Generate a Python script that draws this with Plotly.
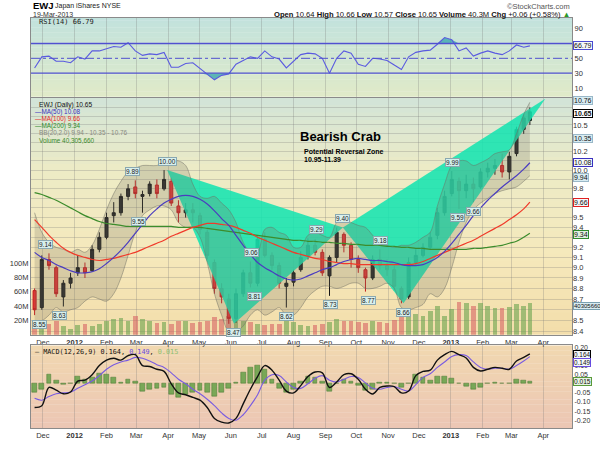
import math
import numpy as np
import plotly.graph_objects as go

# ---------------- data (weekly) ----------------
week_dates = ["2011-11-23","2011-11-30","2011-12-07","2011-12-14","2011-12-21","2011-12-28",
 "2012-01-04","2012-01-11","2012-01-18","2012-01-25","2012-02-01","2012-02-08","2012-02-15","2012-02-22","2012-02-29",
 "2012-03-07","2012-03-14","2012-03-21","2012-03-28","2012-04-04","2012-04-11","2012-04-18","2012-04-25",
 "2012-05-02","2012-05-09","2012-05-16","2012-05-23","2012-05-30","2012-06-06","2012-06-13","2012-06-20","2012-06-27",
 "2012-07-04","2012-07-11","2012-07-18","2012-07-25","2012-08-01","2012-08-08","2012-08-15","2012-08-22","2012-08-29",
 "2012-09-05","2012-09-12","2012-09-19","2012-09-26","2012-10-03","2012-10-10","2012-10-17","2012-10-24","2012-10-31",
 "2012-11-07","2012-11-14","2012-11-21","2012-11-28","2012-12-05","2012-12-12","2012-12-19","2012-12-26",
 "2013-01-02","2013-01-09","2013-01-16","2013-01-23","2013-01-30","2013-02-06","2013-02-13","2013-02-20","2013-02-27",
 "2013-03-06","2013-03-13","2013-03-19"]

opens = [8.78,8.62,9.08,9.00,8.72,8.85,8.95,9.00,8.97,9.18,9.30,9.52,9.55,9.72,9.82,9.72,9.75,9.84,9.80,9.88,
         9.62,9.55,9.58,9.52,9.35,9.05,8.80,8.70,8.52,8.75,8.95,8.85,9.28,9.12,9.02,8.82,8.86,8.98,9.12,9.22,
         9.15,8.92,9.10,9.33,9.22,9.08,8.98,8.90,9.08,9.02,8.98,8.80,8.72,9.05,9.12,9.20,9.32,9.55,9.75,9.88,
         9.78,9.85,9.82,9.98,10.02,10.05,9.98,10.18,10.45,10.55]
highs = [8.80,9.12,9.14,9.02,8.88,8.95,9.12,9.05,9.22,9.35,9.55,9.66,9.75,9.85,9.89,9.78,9.88,9.90,10.00,9.92,
         9.68,9.65,9.65,9.55,9.38,9.08,8.85,8.75,8.80,8.98,9.06,9.32,9.35,9.15,9.05,8.90,8.98,9.16,9.29,9.28,
         9.18,9.12,9.40,9.35,9.25,9.12,9.00,9.12,9.18,9.08,9.02,8.82,9.10,9.18,9.24,9.35,9.60,9.78,9.99,9.92,
         9.95,9.92,10.02,10.08,10.12,10.18,10.20,10.48,10.62,10.70]
lows = [8.55,8.60,8.98,8.72,8.63,8.80,8.92,8.90,8.96,9.15,9.28,9.45,9.52,9.68,9.70,9.55,9.72,9.70,9.78,9.62,
        9.45,9.50,9.45,9.33,9.08,8.75,8.66,8.47,8.48,8.72,8.81,8.82,9.10,8.98,8.80,8.62,8.82,8.96,9.08,9.12,
        8.92,8.73,9.05,9.15,9.00,8.95,8.77,8.88,8.98,8.92,8.78,8.66,8.70,9.02,9.10,9.18,9.28,9.52,9.72,9.59,
        9.70,9.66,9.80,9.92,9.95,9.92,9.90,10.15,10.40,10.50]
closes = [8.60,9.08,9.02,8.75,8.85,8.90,9.00,8.95,9.18,9.30,9.50,9.55,9.72,9.80,9.75,9.74,9.85,9.75,9.90,9.65,
          9.55,9.58,9.55,9.38,9.12,8.80,8.72,8.52,8.75,8.95,8.85,9.28,9.12,9.02,8.85,8.85,8.95,9.10,9.22,9.15,
          8.95,9.10,9.35,9.22,9.08,9.00,8.90,9.08,9.02,8.98,8.82,8.70,9.05,9.12,9.20,9.30,9.55,9.72,9.90,9.78,
          9.85,9.80,9.98,10.02,10.05,9.98,10.15,10.45,10.58,10.65]
volume_m = [16,20,15,19,13,9,14,15,13,16,20,22,24,20,26,22,20,17,18,16,
            20,19,17,18,20,25,23,27,25,20,18,16,14,16,15,20,18,14,13,14,
            15,18,22,20,19,18,17,19,18,17,21,26,32,29,27,33,40,27,36,46,
            44,40,44,41,37,38,39,43,41,44]
ma50 = [9.15,9.10,9.07,9.03,9.00,8.97,8.95,8.95,8.96,8.99,9.04,9.10,9.17,9.25,9.34,9.43,9.52,9.59,9.65,9.69,
        9.72,9.73,9.72,9.69,9.64,9.57,9.49,9.42,9.32,9.22,9.13,9.05,9.00,8.96,8.92,8.89,8.88,8.89,8.92,8.95,
        8.98,9.00,9.03,9.06,9.08,9.09,9.08,9.07,9.07,9.06,9.05,9.03,9.02,9.02,9.03,9.06,9.10,9.16,9.24,9.33,
        9.42,9.52,9.60,9.68,9.75,9.82,9.88,9.94,10.01,10.08]
ma100 = [9.48,9.40,9.32,9.25,9.19,9.15,9.12,9.10,9.08,9.07,9.08,9.09,9.11,9.13,9.15,9.18,9.21,9.24,9.27,9.31,
         9.34,9.37,9.40,9.42,9.44,9.44,9.43,9.42,9.40,9.37,9.34,9.30,9.27,9.24,9.21,9.18,9.15,9.13,9.11,9.09,
         9.08,9.06,9.05,9.04,9.04,9.03,9.03,9.03,9.03,9.03,9.03,9.03,9.03,9.04,9.06,9.09,9.12,9.15,9.18,9.21,
         9.24,9.27,9.31,9.35,9.39,9.43,9.48,9.53,9.59,9.66]
ma200 = [9.76,9.74,9.71,9.68,9.64,9.60,9.56,9.52,9.49,9.46,9.44,9.43,9.42,9.41,9.41,9.41,9.41,9.41,9.41,9.41,
         9.40,9.40,9.40,9.40,9.39,9.38,9.37,9.36,9.35,9.34,9.33,9.32,9.31,9.30,9.29,9.28,9.27,9.27,9.26,9.26,
         9.25,9.25,9.24,9.24,9.23,9.23,9.22,9.22,9.22,9.21,9.21,9.20,9.20,9.19,9.19,9.18,9.18,9.18,9.18,9.18,
         9.18,9.19,9.19,9.20,9.21,9.22,9.24,9.26,9.30,9.34]
bb_upper = [9.55,9.35,9.25,9.20,9.18,9.15,9.18,9.15,9.22,9.38,9.58,9.75,9.88,9.98,10.02,10.05,10.05,10.05,10.08,10.10,
            10.10,10.05,9.85,9.72,9.70,9.72,9.65,9.58,9.45,9.25,9.15,9.15,9.38,9.40,9.35,9.32,9.20,9.20,9.32,9.35,
            9.32,9.30,9.45,9.48,9.45,9.42,9.40,9.32,9.25,9.22,9.20,9.22,9.22,9.25,9.30,9.35,9.62,9.85,10.05,10.10,
            10.10,10.05,10.08,10.12,10.18,10.20,10.22,10.40,10.62,10.76]
bb_lower = [8.50,8.50,8.55,8.62,8.58,8.60,8.62,8.68,8.72,8.70,8.68,8.75,8.90,9.12,9.35,9.52,9.58,9.62,9.62,9.58,
            9.45,9.40,9.40,9.30,9.05,8.75,8.55,8.40,8.40,8.45,8.55,8.60,8.55,8.58,8.62,8.55,8.55,8.62,8.72,8.78,
            8.82,8.82,8.80,8.82,8.85,8.85,8.80,8.80,8.82,8.85,8.80,8.62,8.60,8.62,8.65,8.75,8.72,8.80,9.00,9.25,
            9.45,9.58,9.65,9.70,9.75,9.78,9.80,9.82,9.88,9.94]
rsi = [37,52,53,46,46,44,52,49,60,60,63,66,65,71,60,54,56,55,58,38,
       38,43,44,36,28,21,27,29,42,47,52,50,60,52,49,37,46,55,57,56,
       50,30,50,60,57,42,39,50,49,47,41,35,52,58,60,61,69,78,75,60,
       64,53,57,60,57,55,60,68,65,66.79]
macd = [-0.13,-0.12,-0.02,-0.035,-0.055,-0.045,0.015,0.02,0.05,0.10,0.13,0.14,0.13,0.155,0.16,0.10,0.095,0.08,0.068,0.0,
        -0.05,-0.06,-0.075,-0.09,-0.13,-0.19,-0.21,-0.215,-0.19,-0.11,-0.03,0.04,0.10,0.075,0.02,-0.04,-0.05,-0.01,0.04,0.065,
        0.06,-0.02,0.01,0.05,0.055,0.025,-0.03,-0.056,-0.02,-0.012,-0.015,-0.05,-0.04,0.045,0.068,0.075,0.13,0.16,0.178,0.16,
        0.142,0.09,0.07,0.08,0.09,0.085,0.08,0.125,0.145,0.164]
signal = [-0.08,-0.09,-0.07,-0.055,-0.05,-0.045,-0.025,-0.005,0.015,0.045,0.08,0.105,0.12,0.13,0.145,0.14,0.125,0.105,0.09,0.06,
          0.025,0.0,-0.03,-0.055,-0.085,-0.12,-0.16,-0.19,-0.20,-0.17,-0.12,-0.06,0.02,0.05,0.045,0.01,-0.02,-0.025,0.0,0.03,
          0.045,0.02,0.01,0.025,0.04,0.035,0.005,-0.025,-0.03,-0.02,-0.015,-0.03,-0.04,-0.005,0.035,0.055,0.09,0.12,0.15,0.16,
          0.155,0.12,0.09,0.08,0.085,0.085,0.08,0.10,0.125,0.149]

# harmonic pattern points X, A, B, C, D
pattern_dates = ["2012-03-31", "2012-06-04", "2012-09-18", "2012-11-16", "2013-04-03"]
pattern_prices = [10.00, 8.47, 9.40, 8.66, 10.80]

# swing labels
ext_dates = ["2011-11-28","2011-12-04","2011-12-17","2012-02-26","2012-03-03","2012-03-31","2012-06-04",
             "2012-06-21","2012-06-24","2012-07-25","2012-08-23","2012-09-06","2012-09-18","2012-10-13",
             "2012-10-25","2012-11-16","2013-01-03","2013-01-08","2013-01-23"]
ext_prices = [8.55,9.14,8.63,9.89,9.55,10.00,8.47,9.06,8.81,8.62,9.29,8.73,9.40,8.77,9.18,8.66,9.99,9.59,9.66]
ext_side = ["lo","hi","lo","hi","lo","hi","lo","hi","lo","lo","hi","lo","hi","lo","hi","lo","hi","lo","lo"]

month_ticks = ["2011-12-01","2012-01-01","2012-02-01","2012-03-01","2012-04-01","2012-05-01","2012-06-01",
               "2012-07-01","2012-08-01","2012-09-01","2012-10-01","2012-11-01","2012-12-01","2013-01-01",
               "2013-02-01","2013-03-01","2013-04-01"]
month_labels = ["Dec","<b>2012</b>","Feb","Mar","Apr","May","Jun","Jul","Aug","Sep","Oct","Nov","Dec",
                "<b>2013</b>","Feb","Mar","Apr"]
price_ticks = [8.4,8.5,8.6,8.7,8.8,8.9,9.0,9.1,9.2,9.3,9.4,9.5,9.6,9.7,9.8,9.9,10.0,10.1,10.2,10.3,10.4,10.5,10.6,10.7]
price_hidden = [8.6, 9.3, 9.6, 9.7, 9.9, 10.1, 10.3, 10.4, 10.6, 10.7]   # covered by value boxes
rsi_ticks = [10, 30, 50, 90]
vol_ticks = [20e6, 40e6, 60e6, 80e6, 100e6]
vol_tick_labels = ["20M", "40M", "60M", "80M", "100M"]
macd_ticks = [-0.20,-0.15,-0.10,-0.05,0.0,0.05,0.10,0.15,0.20]
macd_hidden = [0.0, 0.15]

# ---------------- figure ----------------
X_RANGE = ["2011-11-19 12:00", "2013-04-29"]
FONT = "Liberation Sans, Arial, sans-serif"
GRID = "rgba(120,120,120,0.28)"
D_RSI = [0.808, 1.0]
D_PRICE = [0.2275, 0.8057]
D_MACD = [0.0, 0.2014]

fig = go.Figure()

volume = [v * 1e6 for v in volume_m]
vol_colors = ["rgba(110,165,80,0.62)" if c >= o else "rgba(215,100,100,0.6)" for o, c in zip(opens, closes)]
fig.add_trace(go.Bar(x=week_dates, y=volume, marker=dict(color=vol_colors, line=dict(width=0)),
                     width=4.6 * 86400000, xaxis="x2", yaxis="y2", showlegend=False))

# harmonic pattern triangles
tri1 = [0, 1, 2, 0]
tri2 = [2, 3, 4, 2]
for tri in (tri1, tri2):
    fig.add_trace(go.Scatter(x=[pattern_dates[i] for i in tri], y=[pattern_prices[i] for i in tri],
                             mode="lines", fill="toself", fillcolor="rgba(22,228,176,0.88)",
                             line=dict(width=0), xaxis="x2", yaxis="y3", showlegend=False))

# Bollinger band
fig.add_trace(go.Scatter(x=week_dates, y=bb_upper, mode="lines", line=dict(color="rgba(110,110,100,0.6)", width=0.8, shape="spline"),
                         xaxis="x2", yaxis="y3", showlegend=False))
fig.add_trace(go.Scatter(x=week_dates, y=bb_lower, mode="lines", line=dict(color="rgba(110,110,100,0.6)", width=0.8, shape="spline"),
                         fill="tonexty", fillcolor="rgba(120,115,100,0.24)", xaxis="x2", yaxis="y3", showlegend=False))

for series, col in ((ma200, "#3c8c2c"), (ma100, "#f03a2a"), (ma50, "#4a3cc0")):
    fig.add_trace(go.Scatter(x=week_dates, y=series, mode="lines", line=dict(color=col, width=1.2, shape="spline"),
                             xaxis="x2", yaxis="y3", showlegend=False))

fig.add_trace(go.Candlestick(x=week_dates, open=opens, high=highs, low=lows, close=closes,
                             increasing=dict(line=dict(color="#151515", width=1), fillcolor="#252525"),
                             decreasing=dict(line=dict(color="#c41c1c", width=1), fillcolor="#e23232"),
                             whiskerwidth=0, xaxis="x2", yaxis="y3", showlegend=False))

# RSI
rsi_hi = np.maximum(np.array(rsi), 70)
rsi_lo = np.minimum(np.array(rsi), 30)
fig.add_trace(go.Scatter(x=week_dates, y=[70] * len(rsi), mode="lines", line=dict(width=0), xaxis="x", yaxis="y", showlegend=False))
fig.add_trace(go.Scatter(x=week_dates, y=rsi_hi, mode="lines", line=dict(width=0), fill="tonexty",
                         fillcolor="rgba(40,160,170,0.7)", xaxis="x", yaxis="y", showlegend=False))
fig.add_trace(go.Scatter(x=week_dates, y=[30] * len(rsi), mode="lines", line=dict(width=0), xaxis="x", yaxis="y", showlegend=False))
fig.add_trace(go.Scatter(x=week_dates, y=rsi_lo, mode="lines", line=dict(width=0), fill="tonexty",
                         fillcolor="rgba(40,160,170,0.7)", xaxis="x", yaxis="y", showlegend=False))
fig.add_trace(go.Scatter(x=week_dates, y=rsi, mode="lines", line=dict(color="#5a5ae0", width=1.1),
                         xaxis="x", yaxis="y", showlegend=False))

# MACD
hist = [m - s for m, s in zip(macd, signal)]
fig.add_trace(go.Bar(x=week_dates, y=hist, marker=dict(color="rgba(100,160,70,0.85)", line=dict(color="rgba(60,110,40,0.9)", width=0.5)),
                     width=4.6 * 86400000, xaxis="x3", yaxis="y4", showlegend=False))
fig.add_trace(go.Scatter(x=week_dates, y=signal, mode="lines", line=dict(color="#7a5ce0", width=1.1, shape="spline"),
                         xaxis="x3", yaxis="y4", showlegend=False))
fig.add_trace(go.Scatter(x=week_dates, y=macd, mode="lines", line=dict(color="#111111", width=1.4, shape="spline"),
                         xaxis="x3", yaxis="y4", showlegend=False))

# ---------------- backgrounds (gradients) ----------------
def lerp_color(stops, t):
    for (t0, c0), (t1, c1) in zip(stops[:-1], stops[1:]):
        if t0 <= t <= t1:
            f = (t - t0) / (t1 - t0) if t1 > t0 else 0
            return "rgb(%d,%d,%d)" % tuple(round(a + (b - a) * f) for a, b in zip(c0, c1))
    return "rgb(%d,%d,%d)" % stops[-1][1]

shapes = []
def gradient(xref, yref, stops, n=32):
    for i in range(n):
        t = (i + 0.5) / n
        shapes.append(dict(type="rect", xref=xref, yref=yref, x0=0, x1=1, y0=i / n, y1=min(1, (i + 1) / n + 0.004),
                           fillcolor=lerp_color(stops, t), line=dict(width=0), layer="below"))

gradient("x domain", "y domain", [(0, (224, 234, 200)), (1, (194, 226, 221))])
gradient("x2 domain", "y2 domain", [(0, (243, 221, 170)), (0.35, (245, 233, 188)), (0.7, (236, 235, 198)), (1, (210, 228, 216))])
gradient("x3 domain", "y4 domain", [(0, (236, 198, 180)), (1, (241, 216, 176))])

# RSI reference lines
shapes.append(dict(type="line", xref="x domain", yref="y", x0=0, x1=1, y0=70, y1=70, line=dict(color="#5050d0", width=1.3)))
shapes.append(dict(type="line", xref="x domain", yref="y", x0=0, x1=1, y0=30, y1=30, line=dict(color="#5050d0", width=1.3)))
shapes.append(dict(type="line", xref="x domain", yref="y", x0=0, x1=1, y0=50, y1=50, line=dict(color="#5050d0", width=1, dash="dashdot")))

# ---------------- annotations ----------------
ann = []
def txt(text, x, y, xref="paper", yref="paper", size=8, color="#000", xanchor="left", yanchor="middle", family=FONT, **kw):
    ann.append(dict(text=text, x=x, y=y, xref=xref, yref=yref, showarrow=False, xanchor=xanchor, yanchor=yanchor,
                    font=dict(size=size, color=color, family=family), **kw))

# header
txt("<b>EWJ</b>", 0, 1.0296, size=9.5)
txt("Japan iShares NYSE", 0.040, 1.0284, size=7, color="#222")
txt("19-Mar-2013", 0, 1.0083, size=7, color="#333")
txt("\u00a9StockCharts.com", 1, 1.0284, size=7.5, color="#555", xanchor="right")
txt("<b>Open</b> 10.64 <b>High</b> 10.66 <b>Low</b> 10.57 <b>Close</b> 10.65 <b>Volume</b> 40.3M <b>Chg</b> +0.06 (+0.58%) "
    "<span style='color:#2a9a2a'>\u25b2</span>", 1, 1.0095, size=7.6, color="#111", xanchor="right")

# RSI legend
txt("RSI(14) 66.79", 0.012, 0.9506, xref="x domain", yref="y domain", size=7, color="#222",
    family="DejaVu Sans Mono, monospace")

# price legend
leg_y = [0.970, 0.940, 0.910, 0.880, 0.850, 0.820]
txt("EWJ (Daily) 10.65", 0.012, leg_y[0], xref="x2 domain", yref="y2 domain", size=6.6, color="#111")
txt("<span style='color:#3a30c0'>\u2014MA(50) 10.08</span>", 0.004, leg_y[1], xref="x2 domain", yref="y2 domain", size=6.4)
txt("<span style='color:#e82a2a'>\u2014MA(100) 9.66</span>", 0.004, leg_y[2], xref="x2 domain", yref="y2 domain", size=6.4)
txt("<span style='color:#2e8a2e'>\u2014MA(200) 9.34</span>", 0.004, leg_y[3], xref="x2 domain", yref="y2 domain", size=6.4)
txt("BB(20,2.0) 9.94 - 10.35 - 10.76", 0.012, leg_y[4], xref="x2 domain", yref="y2 domain", size=6.4, color="#8a8a80")
txt("Volume 40,305,660", 0.012, leg_y[5], xref="x2 domain", yref="y2 domain", size=6.4, color="#3a8a2a")

# MACD legend
txt("<span style='color:#111'>\u2014 MACD(12,26,9) 0.164,</span> <span style='color:#6a4ce0'>0.149</span>"
    "<span style='color:#111'>,</span> <span style='color:#8cc070'>0.015</span>",
    0.004, 0.9176, xref="x3 domain", yref="y4 domain", size=6.8, family="DejaVu Sans Mono, monospace")

# pattern text
txt("<b>Bearish Crab</b>", 0.5725, 0.836, xref="x2 domain", yref="y2 domain", size=13, xanchor="center")
txt("<b>Potential Reversal Zone</b>", 0.501, 0.7746, xref="x2 domain", yref="y2 domain", size=7)
txt("<b>10.95-11.39</b>", 0.501, 0.7377, xref="x2 domain", yref="y2 domain", size=7)

# swing labels
for d, p, s in zip(ext_dates, ext_prices, ext_side):
    ann.append(dict(text="%.2f" % p, x=d, y=math.log10(p), xref="x2", yref="y3", showarrow=False,
                    yshift=9 if s == "hi" else -9, font=dict(size=6.5, color="#222", family=FONT),
                    bgcolor="rgba(215,240,240,0.95)", bordercolor="#8aa8b0", borderwidth=1, borderpad=0))

# right side value boxes
def vbox(text, y, yref, border, bg="#f4f8fa", bold=False, shift=0, size=7):
    ann.append(dict(text=("<b>%s</b>" % text) if bold else text, x=1, y=y, xref="paper", yref=yref, showarrow=False,
                    xanchor="left", xshift=1, yshift=shift, font=dict(size=size, color="#111", family=FONT),
                    bgcolor=bg, bordercolor=border, borderwidth=1, borderpad=0))

vbox("66.79", 66.79, "y", "#4a4ad0")
vbox("10.76", math.log10(10.76), "y3", "#9ab8c8", bg="#d8ecf2", shift=2)
vbox("10.65", math.log10(10.65), "y3", "#000", bg="#ffffff", bold=True, shift=-2)
vbox("10.35", math.log10(10.35), "y3", "#9ab8c8", bg="#d8ecf2")
vbox("10.08", math.log10(10.08), "y3", "#3a30c0")
vbox("9.94", math.log10(9.94), "y3", "#9ab8c8", bg="#d8ecf2", shift=-2)
vbox("9.66", math.log10(9.66), "y3", "#e02020")
vbox("9.34", math.log10(9.34), "y3", "#2e8a2e", bg="#dff0df", shift=-1)
vbox("40305660", 40.3e6, "y2", "#7aa0b0", bg="#d8ecf2", size=6)
vbox("0.164", 0.164, "y4", "#000", shift=-0.5, size=6.4)
vbox("0.149", 0.149, "y4", "#6a4ce0", shift=-5.5, size=6.4)
vbox("0.015", 0.015, "y4", "#5a9a3a", bg="#e6f4e0", size=6.6)

# ---------------- axes ----------------
tickfont = dict(size=7.5, color="#333", family=FONT)
xcommon = dict(type="date", range=X_RANGE, tickvals=month_ticks, ticktext=month_labels, showgrid=True,
               gridcolor=GRID, gridwidth=1, showline=True, linecolor="#8a8a8a", mirror=True, ticks="",
               tickfont=tickfont, zeroline=False, rangeslider=dict(visible=False))

fig.update_layout(
    width=600, height=450,
    margin=dict(l=28, r=27, t=18, b=10),
    paper_bgcolor="white", plot_bgcolor="rgba(0,0,0,0)",
    hovermode=False, showlegend=False, bargap=0,
    xaxis=dict(xcommon, anchor="y", showticklabels=False),
    xaxis2=dict(xcommon, anchor="y2"),
    xaxis3=dict(xcommon, anchor="y4"),
    yaxis=dict(domain=D_RSI, range=[-1.8, 104.4], side="right", tickvals=rsi_ticks, showgrid=False,
               showline=True, linecolor="#8a8a8a", mirror=True, ticks="", tickfont=tickfont, zeroline=False),
    yaxis2=dict(domain=D_PRICE, range=[0, 330e6], side="left", tickvals=vol_ticks, ticktext=vol_tick_labels,
                showgrid=False, showline=True, linecolor="#8a8a8a", mirror=True, ticks="", tickfont=tickfont,
                zeroline=False, anchor="x2"),
    yaxis3=dict(overlaying="y2", anchor="x2", side="right", type="log",
                range=[math.log10(8.371), math.log10(10.814)], tickvals=price_ticks,
                ticktext=["" if v in price_hidden else "%.1f" % v for v in price_ticks],
                showgrid=True, gridcolor=GRID, ticks="", tickfont=tickfont, zeroline=False),
    yaxis4=dict(domain=D_MACD, range=[-0.2427, 0.2107], side="right", tickvals=macd_ticks,
                ticktext=["" if v in macd_hidden else "%.2f" % v for v in macd_ticks], showgrid=False,
                showline=True, linecolor="#8a8a8a", mirror=True, ticks="",
                tickfont=dict(size=7, color="#333", family=FONT), zeroline=False, anchor="x3"),
    shapes=shapes, annotations=ann,
)

fig.write_html("out.html")
